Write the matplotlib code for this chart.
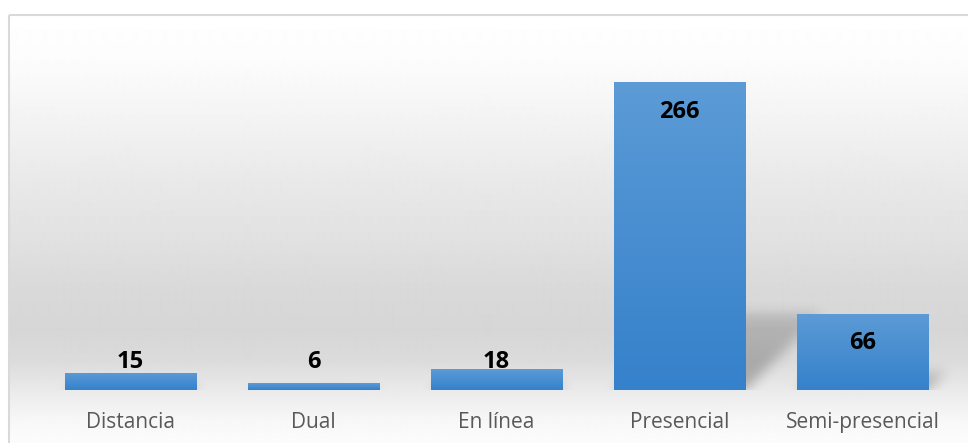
import numpy as np
import matplotlib
matplotlib.use("Agg")
import matplotlib.pyplot as plt
from matplotlib.patches import Rectangle
from matplotlib.colors import LinearSegmentedColormap

categories = ["Distancia", "Dual", "En línea", "Presencial", "Semi-presencial"]
values = [15, 6, 18, 266, 66]

W, H = 968, 443
fig = plt.figure(figsize=(W / 100, H / 100), dpi=100)
fig.patch.set_facecolor("white")

# background panel with vertical grey gradient
bg = fig.add_axes([0, 0, 1, 1], zorder=0)
bg.set_xlim(0, W)
bg.set_ylim(H, 0)
bg.axis("off")
stops_y = [15, 60, 120, 180, 240, 290, 330, 360, 390, 420, 443]
stops_g = [255, 252, 243, 233, 225, 217, 214, 219, 234, 247, 252]
rows = np.arange(15, H)
g = np.interp(rows, stops_y, stops_g) / 255.0
grad = np.repeat(g[:, None], 2, axis=1)
bg.imshow(grad, cmap="gray", vmin=0, vmax=1, extent=(9, W, H, 15), aspect="auto",
          interpolation="bilinear")
bg.add_patch(Rectangle((9, 15), W, H, fill=False, ec="#d9d9d9", lw=1.5))

# main axes
ax = fig.add_axes([39 / W, 53 / H, 915 / W, 347.4 / H], zorder=2)
ax.set_facecolor("none")
x = np.arange(len(categories))
ax.set_xlim(-0.5, len(categories) - 0.5)
ax.set_ylim(0, 300)
bars = ax.bar(x, values, width=0.716, color="none", edgecolor="none")

bar_cmap = LinearSegmentedColormap.from_list("b", ["#3581cb", "#5c9bd6"])
gv = np.linspace(0, 1, 256)[:, None]
for b in bars:
    im = ax.imshow(gv, cmap=bar_cmap, origin="lower", aspect="auto",
                   extent=(b.get_x(), b.get_x() + b.get_width(), 0, b.get_height()),
                   zorder=2)
    im.set_clip_path(b)

# perspective drop shadows, computed in pixel space
mask = np.zeros((H, W))
for b in bars:
    (xl, yb), (xr, yt) = ax.transData.transform([(b.get_x(), 0), (b.get_x() + b.get_width(), b.get_height())])
    base = H - yb
    h = yt - yb
    sh = 0.25 * h
    for t in range(int(sh) + 1):
        r = int(round(base - t))
        a = 0.28 * (1 - 0.5 * t / max(sh, 1))
        c0 = int(round(xl + t))
        c1 = int(round(xr + t))
        mask[r, max(c0, 0):min(c1, W)] = np.maximum(mask[r, max(c0, 0):min(c1, W)], a)
k = np.exp(-0.5 * (np.arange(-18, 19) / 6.0) ** 2)
k /= k.sum()
mask = np.apply_along_axis(lambda m: np.convolve(m, k, mode="same"), 0, mask)
mask = np.apply_along_axis(lambda m: np.convolve(m, k, mode="same"), 1, mask)
base_px = int(round(H - ax.transData.transform((0, 0))[1]))
mask[base_px:, :] = 0
shadow = np.zeros((H, W, 4))
shadow[..., 3] = mask
sh_ax = fig.add_axes([0, 0, 1, 1], zorder=1)
sh_ax.imshow(shadow, extent=(0, W, H, 0), aspect="auto")
sh_ax.set_xlim(0, W)
sh_ax.set_ylim(H, 0)
sh_ax.axis("off")

for xi, v in zip(x, values):
    ax.text(xi, max(v - 25.7, 24), str(v), ha="center", va="center",
            fontsize=17, fontweight="bold", family="Open Sans", color="black", zorder=5)

ax.set_xticks(x)
ax.set_xticklabels(categories, fontsize=15, family="Open Sans", color="#595959")
ax.tick_params(axis="x", length=0, pad=16)
ax.set_yticks([])
for s in ax.spines.values():
    s.set_visible(False)

fig.savefig("out.png", dpi=100)
